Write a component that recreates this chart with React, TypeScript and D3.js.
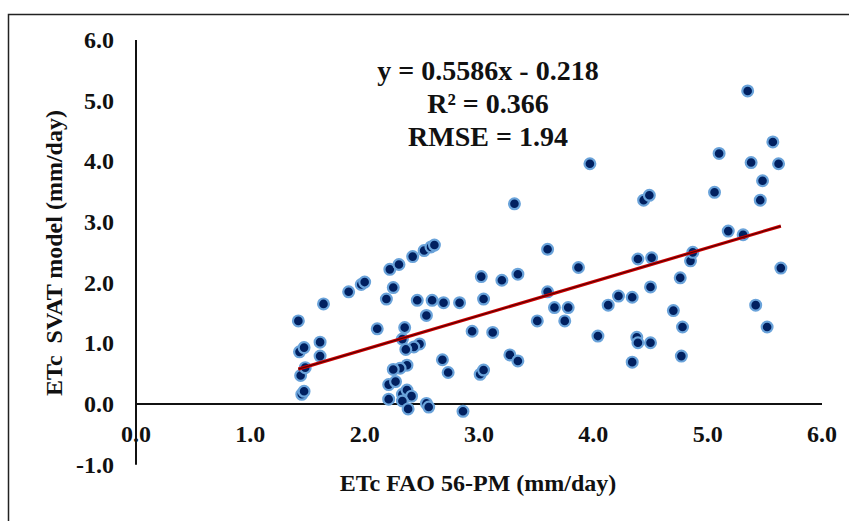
import * as d3 from "d3";
import React, { useEffect, useRef } from "react";

// ETc FAO 56-PM (x) vs ETc SVAT model (y), mm/day
const fao = [
  1.42, 1.43, 1.47, 1.44, 1.48, 1.45, 1.47, 1.64, 1.61, 1.61,
  1.86, 1.97, 2.0, 2.22, 2.3, 2.42, 2.52, 2.58, 2.61, 2.25,
  2.19, 2.46, 2.59, 2.69, 2.83, 2.54, 2.11, 2.35, 2.33, 2.48,
  2.43, 2.36, 2.68, 2.73, 2.37, 2.31, 2.25, 2.21, 2.27, 2.21,
  2.33, 2.37, 2.41, 2.33, 2.38, 2.54, 2.56, 2.86, 2.94, 3.12,
  3.02, 3.2, 3.34, 3.04, 3.01, 3.04, 3.27, 3.34, 3.31, 3.6,
  3.6, 3.66, 3.78, 3.51, 3.75, 3.87, 3.97, 4.04, 4.13, 4.22,
  4.34, 4.5, 4.38, 4.39, 4.5, 4.34, 4.39, 4.51, 4.44, 4.49,
  4.7, 4.76, 4.78, 4.77, 4.85, 4.87, 5.06, 5.1, 5.18, 5.31,
  5.35, 5.38, 5.42, 5.46, 5.48, 5.52, 5.57, 5.62, 5.64,
];
const svat = [
  1.37, 0.86, 0.93, 0.47, 0.6, 0.16, 0.21, 1.65, 1.02, 0.79,
  1.85, 1.97, 2.01, 2.22, 2.3, 2.43, 2.53, 2.59, 2.62, 1.92,
  1.73, 1.71, 1.71, 1.67, 1.67, 1.46, 1.24, 1.26, 1.07, 0.99,
  0.94, 0.9, 0.73, 0.52, 0.64, 0.59, 0.57, 0.32, 0.37, 0.08,
  0.16, 0.23, 0.13, 0.05, -0.08, 0.01, -0.05, -0.12, 1.2, 1.18,
  2.1, 2.04, 2.14, 1.73, 0.49, 0.56, 0.81, 0.71, 3.3, 2.55,
  1.85, 1.59, 1.59, 1.37, 1.37, 2.25, 3.96, 1.12, 1.63, 1.78,
  1.76, 1.93, 1.1, 1.01, 1.01, 0.69, 2.39, 2.41, 3.36, 3.44,
  1.54, 2.08, 1.27, 0.79, 2.36, 2.5, 3.49, 4.13, 2.85, 2.79,
  5.16, 3.98, 1.63, 3.36, 3.68, 1.27, 4.32, 3.96, 2.24,
];

const xTicks = [0, 1, 2, 3, 4, 5, 6];
const yTicks = [-1, 0, 1, 2, 3, 4, 5, 6];

const slope = 0.5586;
const intercept = -0.218;
const statLines = ["y = 0.5586x - 0.218", "R² = 0.366", "RMSE = 1.94"];

export default function App() {
  const svgRef = useRef(null);
  const width = 849;
  const height = 521;
  const font = "'Liberation Serif', 'Times New Roman', serif";

  useEffect(() => {
    const svg = d3.select(svgRef.current);
    svg.selectAll("*").remove();

    const x = d3.scaleLinear().domain([0, 6]).range([136, 822]);
    const y = d3.scaleLinear().domain([-1, 6]).range([464.7, 40]);

    // frame (runs off the right/bottom edge like the original)
    svg
      .append("rect")
      .attr("x", 8.5)
      .attr("y", 14.5)
      .attr("width", 1000)
      .attr("height", 1000)
      .attr("fill", "white")
      .attr("stroke", "#222")
      .attr("stroke-width", 1.5);

    // axes lines, crossing at 0
    svg
      .append("line")
      .attr("x1", x(0))
      .attr("x2", x(0))
      .attr("y1", y(6))
      .attr("y2", y(-1))
      .attr("stroke", "#111")
      .attr("stroke-width", 2);
    svg
      .append("line")
      .attr("x1", x(0))
      .attr("x2", x(6))
      .attr("y1", y(0))
      .attr("y2", y(0))
      .attr("stroke", "#111")
      .attr("stroke-width", 2);

    svg
      .append("g")
      .selectAll("text")
      .data(xTicks)
      .join("text")
      .attr("x", (d) => x(d))
      .attr("y", 442)
      .attr("text-anchor", "middle")
      .text((d) => d3.format(".1f")(d));

    svg
      .append("g")
      .selectAll("text")
      .data(yTicks)
      .join("text")
      .attr("x", 114)
      .attr("y", (d) => y(d) + 8)
      .attr("text-anchor", "end")
      .text((d) => d3.format(".1f")(d).replace("−", "-"));

    svg.selectAll("text").attr("font-size", 24);

    // points
    const pts = fao.map((v, i) => ({ x: v, y: svat[i] }));
    svg
      .append("g")
      .selectAll("circle")
      .data(pts)
      .join("circle")
      .attr("cx", (d) => x(d.x))
      .attr("cy", (d) => y(d.y))
      .attr("r", 5.4)
      .attr("fill", "#012060")
      .attr("stroke", "#6aa3da")
      .attr("stroke-width", 2.2);

    // trendline over the data range
    const [x0, x1] = d3.extent(fao);
    const trend = [x0, x1].map((v) => ({ x: v, y: slope * v + intercept }));
    const line = d3
      .line()
      .x((d) => x(d.x))
      .y((d) => y(d.y));
    svg
      .append("path")
      .datum(trend)
      .attr("d", line)
      .attr("stroke", "#d00000")
      .attr("stroke-width", 3.2)
      .attr("fill", "none");
    svg
      .append("path")
      .datum(trend)
      .attr("d", line)
      .attr("stroke", "#5a0000")
      .attr("stroke-width", 1.2)
      .attr("fill", "none");

    // regression stats
    svg
      .append("g")
      .selectAll("text")
      .data(statLines)
      .join("text")
      .attr("x", 488)
      .attr("y", (d, i) => 80 + i * 33)
      .attr("text-anchor", "middle")
      .attr("font-size", 28)
      .text((d) => d);

    svg
      .append("text")
      .attr("x", 478)
      .attr("y", 491)
      .attr("text-anchor", "middle")
      .attr("font-size", 24)
      .text("ETc FAO 56-PM (mm/day)");

    svg
      .append("text")
      .attr("transform", "translate(62,253) rotate(-90)")
      .attr("text-anchor", "middle")
      .attr("font-size", 24)
      .style("white-space", "pre")
      .text("ETc  SVAT model (mm/day)");

    svg
      .selectAll("text")
      .attr("font-family", font)
      .attr("font-weight", "bold")
      .attr("fill", "#111");
  });

  return (
    <svg
      ref={svgRef}
      width={width}
      height={height}
      style={{ position: "absolute", left: 0, top: 0, background: "white" }}
    ></svg>
  );
}
